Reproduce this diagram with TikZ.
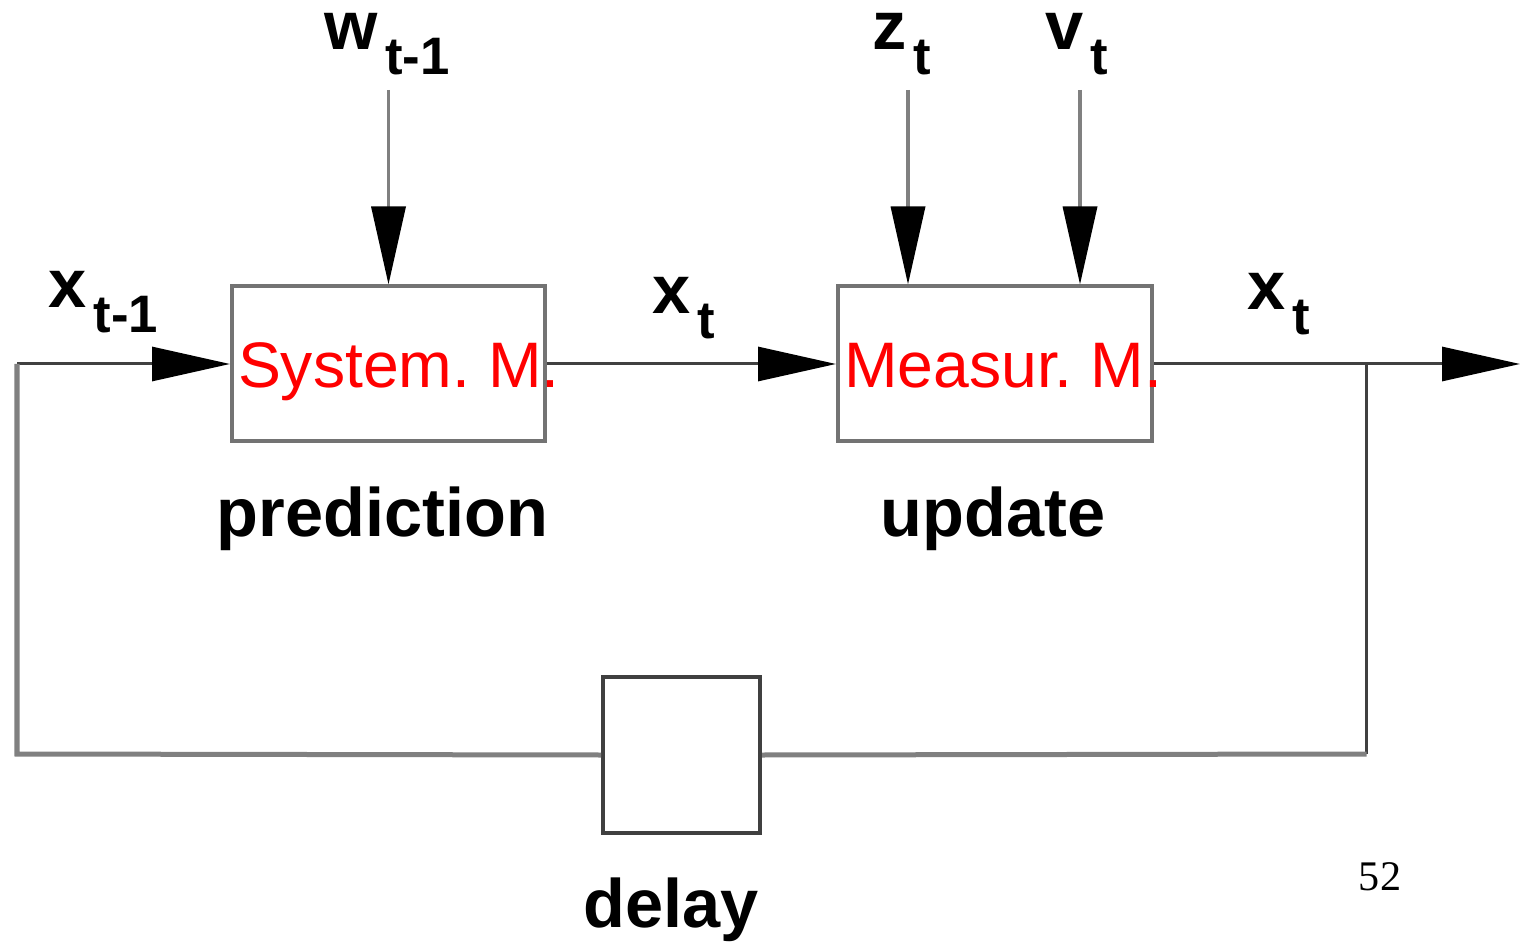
\documentclass[tikz,border=0pt]{standalone}
\usepackage{fontspec}
\setmainfont{Liberation Sans}
\newfontfamily\pagenumfont{Liberation Serif}
\frenchspacing
\usetikzlibrary{arrows.meta, positioning, calc}
\tikzset{
  modelbox/.style={
    rectangle, draw=black!55, line width=0.04cm, text=red,
    inner xsep=0.06cm, inner ysep=0pt, minimum width=3.13cm, minimum height=1.55cm,
    text height=0.6cm, text depth=0.12cm, font=\fontsize{18.3}{18}\selectfont
  },
  delaybox/.style={
    rectangle, draw=black!75, line width=0.04cm,
    minimum width=1.57cm, minimum height=1.56cm
  },
  siglabel/.style={inner sep=0pt, anchor=base west, font=\fontsize{19.5}{20}\selectfont\bfseries},
  blocklabel/.style={inner sep=0pt, anchor=base, font=\fontsize{19.5}{20}\selectfont\bfseries},
  arrow/.style={-{Triangle[length=0.78cm, width=0.34cm, color=black]}, line width=0.03cm, draw=black!75},
  inarrow/.style={arrow, line width=0.035cm, draw=black!50},
  wire/.style={line width=0.03cm, draw=black!75},
  loopwire/.style={line width=0.05cm, draw=black!50}
}
\newcommand{\sigsub}[2]{#1\hspace{0.07cm}\raisebox{-0.25cm}{\fontsize{15}{15}\selectfont #2}}

\begin{document}
\begin{tikzpicture}
\useasboundingbox (0,0) rectangle (15.22,-9.42);

% blocks
\node[modelbox] (sys) at (3.885,-3.64) {\makebox[3.01cm][l]{System. M.}};
\node[modelbox, minimum width=3.14cm] (mea) at (9.95,-3.64) {\makebox[3.02cm][l]{Measur. M.}};
\node[delaybox] (dly) at (6.815,-7.55) {};

\node[blocklabel] (pred) at (3.825,-5.37) {prediction};
\node[blocklabel] (upd)  at (9.93,-5.37)  {update};
\node[blocklabel] (dlab) at (6.71,-9.27)  {delay};

% signal sources and loop corners
\coordinate (wsrc) at (3.885,-0.9);
\coordinate (zsrc) at (9.08,-0.9);
\coordinate (vsrc) at (10.8,-0.9);
\coordinate (inL)  at (0.17,-3.64);
\coordinate (botL) at (0.17,-7.54);
\coordinate (tap)  at (13.665,-3.64);
\coordinate (botR) at (13.665,-7.54);
\coordinate (out)  at (15.2,-3.64);

\node[siglabel] (xin)  at (0.48,-3.08)  {\sigsub{x}{t-1}};
\node[siglabel] (wlab) at (3.24,-0.5)   {\sigsub{w}{t-1}};
\node[siglabel] (zlab) at (8.72,-0.5)   {\sigsub{z}{t}};
\node[siglabel] (vlab) at (10.45,-0.5)  {\sigsub{v}{t}};
\node[siglabel] (xmid) at (6.52,-3.14)  {\sigsub{x}{t}};
\node[siglabel] (xout) at (12.47,-3.10) {\sigsub{x}{t}};

\node[inner sep=0pt, font=\pagenumfont\fontsize{12}{12}\selectfont] (pnum) at (13.8,-8.77) {52};

% connectors
\draw[inarrow] (wsrc) -- (sys.north);
\draw[inarrow] (zsrc) -- (zsrc |- mea.north);
\draw[inarrow] (vsrc) -- (vsrc |- mea.north);
\draw[arrow] (inL) -- (sys.west);
\draw[arrow] (sys.east) -- (mea.west);
\draw[arrow] (mea.east) -- (out);
\draw[wire] (tap) -- (botR);
\draw[loopwire] (botR) -- (dly.east);
\draw[loopwire] (dly.west) -- (botL) -- (inL);

\end{tikzpicture}
\end{document}
